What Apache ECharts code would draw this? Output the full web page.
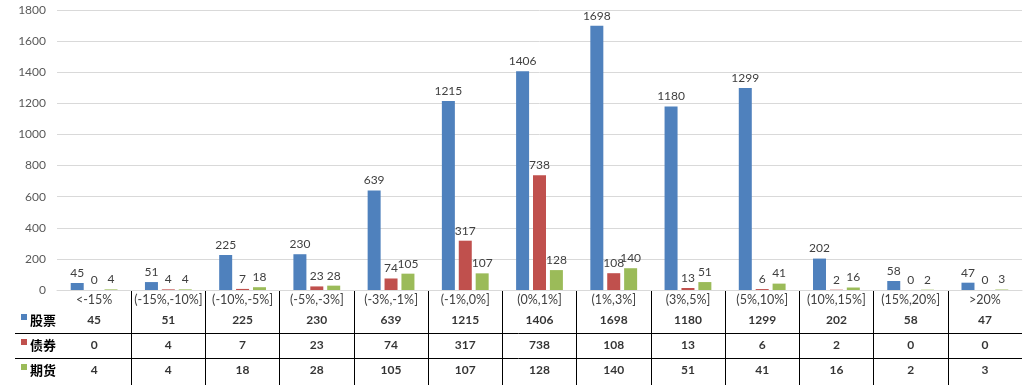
<!DOCTYPE html>
<html><head><meta charset="utf-8">
<script src="https://cdn.jsdelivr.net/npm/echarts@6/dist/echarts.min.js"></script>
<style>html,body{margin:0;padding:0;background:#fff}#c{width:1032px;height:387px}</style>
</head><body><div id="c"></div>
<script>
const categories = ['<-15%','(-15%,-10%]','(-10%,-5%]','(-5%,-3%]','(-3%,-1%]','(-1%,0%]','(0%,1%]','(1%,3%]','(3%,5%]','(5%,10%]','(10%,15%]','(15%,20%]','>20%'];
const seriesNames = ['股票','债券','期货'];
const stocks = [45,51,225,230,639,1215,1406,1698,1180,1299,202,58,47];
const bonds = [0,4,7,23,74,317,738,108,13,6,2,0,0];
const futures = [4,4,18,28,105,107,128,140,51,41,16,2,3];
const yMin = 0, yMax = 1800, yInterval = 200;

const colors = ['#4F81BD','#C0504D','#9BBB59'];
const FONT = "Lato, 'Noto Sans CJK SC', sans-serif";
const allValues = [stocks, bonds, futures];

const tableCells = [];
allValues.forEach((arr, r) => arr.forEach((v, c) => tableCells.push([c, r, v])));

const rich = {};
colors.forEach((col, i) => { rich['sq' + i] = {width: 6, height: 6, backgroundColor: col, verticalAlign: 'top'}; });
rich.t = {fontFamily: "'Noto Sans CJK SC', sans-serif", fontSize: 13, color: '#000', padding: [0,0,0,3], fontWeight: 'bold'};

const chart = echarts.init(document.getElementById('c'), null, {renderer: 'canvas'});
const barSeries = allValues.map((arr, i) => ({
  name: seriesNames[i], type: 'bar', xAxisIndex: 0, yAxisIndex: 0,
  data: arr, barWidth: 13, barGap: '30%',
  itemStyle: {color: colors[i]},
  label: {show: true, position: 'top', distance: 4, color: '#404040', fontSize: 12, fontFamily: FONT},
  silent: true, animation: false
}));

chart.setOption({
  animation: false,
  textStyle: {fontFamily: FONT},
  grid: [
    {left: 57, right: 10, top: 10, bottom: 97},
    {left: 57, right: 10, top: 290, height: 95},
    {left: 15, right: 10, top: 308, height: 75},
    {left: 57, right: 10, top: 308, height: 75}
  ],
  xAxis: [
    {gridIndex: 0, type: 'category', data: categories,
     axisLine: {lineStyle: {color: '#D9D9D9'}}, axisTick: {show: false},
     axisLabel: {interval: 0, margin: 4, color: '#404040', fontSize: 12.5, fontFamily: FONT}},
    {gridIndex: 1, type: 'category', data: categories,
     axisLine: {show: false}, axisTick: {show: false}, axisLabel: {show: false},
     splitLine: {show: true, interval: 0, showMinLine: false, showMaxLine: false, lineStyle: {color: '#000', width: 1}}},
    {gridIndex: 2, type: 'value', show: false},
    {gridIndex: 3, type: 'category', data: categories, show: false}
  ],
  yAxis: [
    {gridIndex: 0, type: 'value', min: yMin, max: yMax, interval: yInterval,
     axisLine: {show: false}, axisTick: {show: false},
     axisLabel: {margin: 11, color: '#595959', fontSize: 12, fontFamily: FONT, formatter: v => String(v)},
     splitLine: {lineStyle: {color: '#D9D9D9'}}},
    {gridIndex: 1, type: 'value', show: false},
    {gridIndex: 2, type: 'category', data: seriesNames, inverse: true,
     axisLine: {show: false}, axisTick: {show: false},
     axisLabel: {inside: true, margin: 6, interval: 0,
       formatter: (v, i) => '{sq' + seriesNames.indexOf(v) + '|}{t|' + v + '}', rich: rich},
     splitLine: {show: true, interval: 0, showMinLine: false, showMaxLine: false, lineStyle: {color: '#000', width: 1}}},
    {gridIndex: 3, type: 'category', data: seriesNames, inverse: true, show: false}
  ],
  series: barSeries.concat([{
    type: 'scatter', xAxisIndex: 3, yAxisIndex: 3, data: tableCells, symbolSize: 0,
    silent: true,
    label: {show: true, position: 'inside', formatter: p => String(p.value[2]),
      color: '#000', fontSize: 12, fontWeight: 'bold', fontFamily: FONT}
  }])
});
</script></body></html>
